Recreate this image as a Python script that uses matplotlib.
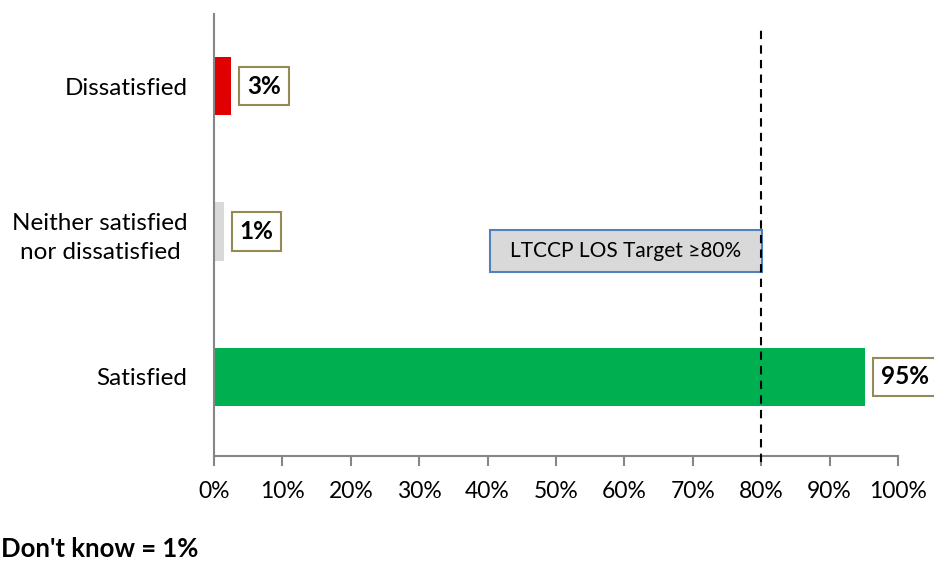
import matplotlib.pyplot as plt
from matplotlib.patches import Rectangle

categories = ['Satisfied', 'Neither satisfied\nnor dissatisfied', 'Dissatisfied']
values = [95.2, 1.4, 2.5]
labels = ['95%', '1%', '3%']
colors = ['#00B050', '#D9D9D9', '#E00000']
target = 80
xticks = list(range(0, 101, 10))

plt.rcParams['font.family'] = ['Lato', 'DejaVu Sans']

fig = plt.figure(figsize=(9.34, 5.61), dpi=100)
ax = fig.add_axes([0.2291, 0.1872, 0.7323, 0.7878])

ypos = range(len(categories))
ax.barh(ypos, values, height=0.4, color=colors, zorder=2)

# value labels in boxes
for y, v, lab in zip(ypos, values, labels):
    ax.annotate(lab, (v, y), xytext=(11.5, 0), textcoords='offset points',
                ha='left', va='center', fontsize=17.5, fontweight='bold',
                bbox=dict(boxstyle='square,pad=0.32', fc='white', ec='#948A54', lw=1.5),
                zorder=5)

# target line and its box
ax.axvline(target, ymin=-0.014, ymax=0.964, color='black', ls=(0, (4, 3)), lw=1.5,
           clip_on=False, zorder=4)
ax.add_patch(Rectangle((40.35, 0.722), target - 40.35 + 0.1, 0.29, fc='#D9D9D9',
                       ec='#4F81BD', lw=1.5, zorder=3))
ax.text((40.35 + target) / 2, 0.866, 'LTCCP LOS Target \u226580%', ha='center',
        va='center', fontsize=15, zorder=4)

ax.set_xlim(0, 100)
ax.set_ylim(-0.543, 2.495)
ax.set_yticks(list(ypos))
ax.set_yticklabels(categories, fontsize=17.5, multialignment='center', linespacing=1.5)
ax.tick_params(axis='y', length=0, pad=19)
ax.set_xticks(xticks)
ax.set_xticklabels([f'{t}%' for t in xticks], fontsize=16.5)
ax.tick_params(axis='x', direction='out', length=7, width=1.5, color='#868686', pad=11)

for s in ['top', 'right']:
    ax.spines[s].set_visible(False)
for s in ['left', 'bottom']:
    ax.spines[s].set_color('#868686')
    ax.spines[s].set_linewidth(1.5)

fig.text(0.001, 1 - 549 / 561, "Don't know = 1%", ha='left', va='center',
         fontsize=18.5, fontweight='bold')

fig.savefig('out.png', dpi=100)
